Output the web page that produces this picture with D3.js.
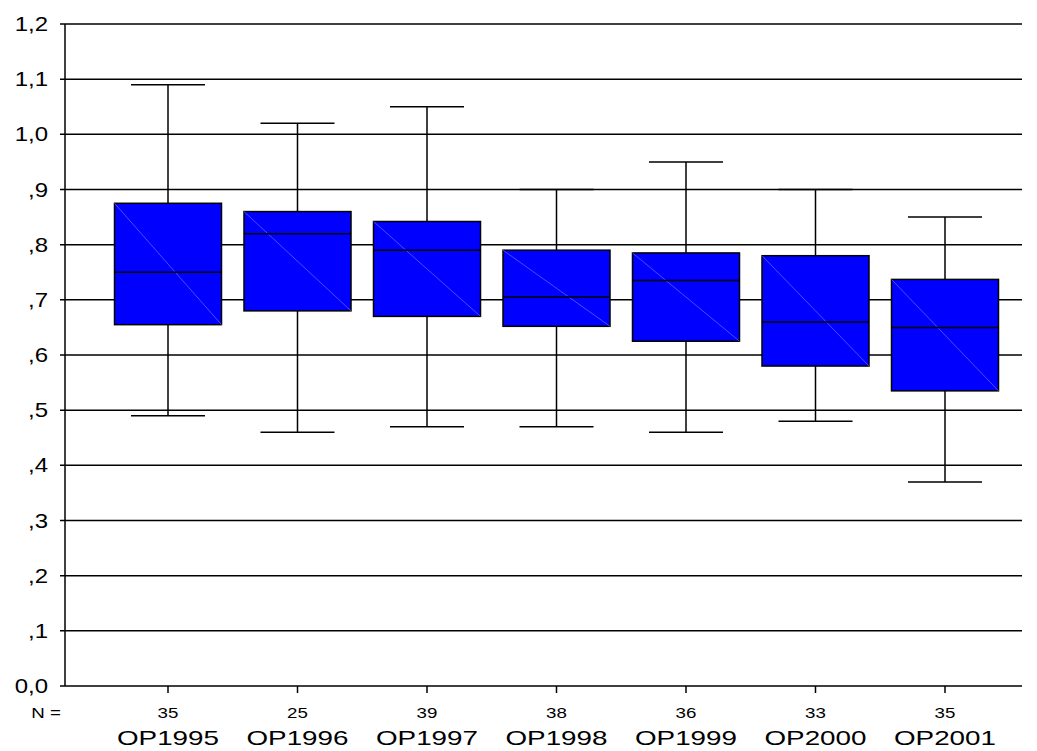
<!DOCTYPE html>
<html><head><meta charset="utf-8">
<script src="https://cdn.jsdelivr.net/npm/d3@7"></script>
<style>body{margin:0;background:#fff}text{font-family:"Liberation Sans",Arial,sans-serif}</style>
</head><body>
<script>
const categories = ["OP1995","OP1996","OP1997","OP1998","OP1999","OP2000","OP2001"];
const counts = [35,25,39,38,36,33,35];
const mins = [0.49,0.46,0.47,0.47,0.46,0.48,0.37];
const q1s = [0.655,0.68,0.67,0.652,0.625,0.58,0.535];
const medians = [0.75,0.82,0.79,0.705,0.735,0.66,0.65];
const q3s = [0.875,0.86,0.842,0.79,0.785,0.78,0.737];
const maxs = [1.09,1.02,1.05,0.90,0.95,0.90,0.85];
const yTicks = [0,0.1,0.2,0.3,0.4,0.5,0.6,0.7,0.8,0.9,1.0,1.1,1.2];

const width = 1037, height = 751;
const svg = d3.select("body").append("svg").attr("width", width).attr("height", height);

const y = d3.scaleLinear().domain([0,1.2]).range([686,24]);
const x = d3.scalePoint().domain(categories).range([168,945]);
const left = 65, right = 1022, boxW = 107, capW = 74;

const fmt = v => v === 0 ? "0,0" : (v < 1 ? d3.format(".1f")(v).replace("0.", ",") : d3.format(".1f")(v).replace(".", ","));

// gridlines + y labels
svg.selectAll(".grid").data(yTicks.filter(d => d > 0)).enter().append("line")
  .attr("x1", left - 5).attr("x2", right)
  .attr("y1", d => y(d)).attr("y2", d => y(d))
  .attr("stroke", "#000").attr("stroke-width", 1.5);
svg.selectAll(".ylab").data(yTicks).enter().append("text")
  .attr("transform", d => `translate(48,${y(d) + 7}) scale(1.2,1)`)
  .attr("text-anchor", "end").attr("font-size", 20).text(fmt);

// axes
svg.append("line").attr("x1", left).attr("x2", left).attr("y1", y(1.2)).attr("y2", y(0))
  .attr("stroke", "#000").attr("stroke-width", 1.5);
svg.append("line").attr("x1", left - 5).attr("x2", right).attr("y1", y(0)).attr("y2", y(0))
  .attr("stroke", "#000").attr("stroke-width", 1.5);

const data = categories.map((c, i) => ({c, n: counts[i], min: mins[i], q1: q1s[i], med: medians[i], q3: q3s[i], max: maxs[i]}));

const g = svg.selectAll(".box").data(data).enter().append("g");
g.append("line").attr("x1", d => x(d.c)).attr("x2", d => x(d.c))
  .attr("y1", d => y(d.max)).attr("y2", d => y(d.min)).attr("stroke", "#000").attr("stroke-width", 1.5);
g.append("line").attr("x1", d => x(d.c) - capW/2).attr("x2", d => x(d.c) + capW/2)
  .attr("y1", d => y(d.max)).attr("y2", d => y(d.max)).attr("stroke", "#000").attr("stroke-width", 1.5);
g.append("line").attr("x1", d => x(d.c) - capW/2).attr("x2", d => x(d.c) + capW/2)
  .attr("y1", d => y(d.min)).attr("y2", d => y(d.min)).attr("stroke", "#000").attr("stroke-width", 1.5);
g.append("rect").attr("x", d => x(d.c) - boxW/2).attr("width", boxW)
  .attr("y", d => y(d.q3)).attr("height", d => y(d.q1) - y(d.q3))
  .attr("fill", "#0000ff").attr("stroke", "#000").attr("stroke-width", 1.5);
g.append("line").attr("x1", d => x(d.c) - boxW/2).attr("x2", d => x(d.c) + boxW/2)
  .attr("y1", d => y(d.q3)).attr("y2", d => y(d.q1)).attr("stroke", "#8080ff").attr("stroke-width", 0.6);
g.append("line").attr("x1", d => x(d.c) - boxW/2).attr("x2", d => x(d.c) + boxW/2)
  .attr("y1", d => y(d.med)).attr("y2", d => y(d.med)).attr("stroke", "#000").attr("stroke-width", 1.5);

// x ticks and labels
g.append("line").attr("x1", d => x(d.c)).attr("x2", d => x(d.c))
  .attr("y1", y(0)).attr("y2", y(0) + 7).attr("stroke", "#000").attr("stroke-width", 1.5);
g.append("text").attr("transform", d => `translate(${x(d.c)},718) scale(1.25,1)`).attr("text-anchor", "middle")
  .attr("font-size", 15).text(d => d.n);
g.append("text").attr("x", d => x(d.c)).attr("y", 745).attr("text-anchor", "middle")
  .attr("font-size", 21).attr("textLength", 102).attr("lengthAdjust", "spacingAndGlyphs").text(d => d.c);
svg.append("text").attr("transform", "translate(46,718) scale(1.25,1)").attr("font-size", 15)
  .attr("text-anchor", "middle").text("N =");
</script>
</body></html>
